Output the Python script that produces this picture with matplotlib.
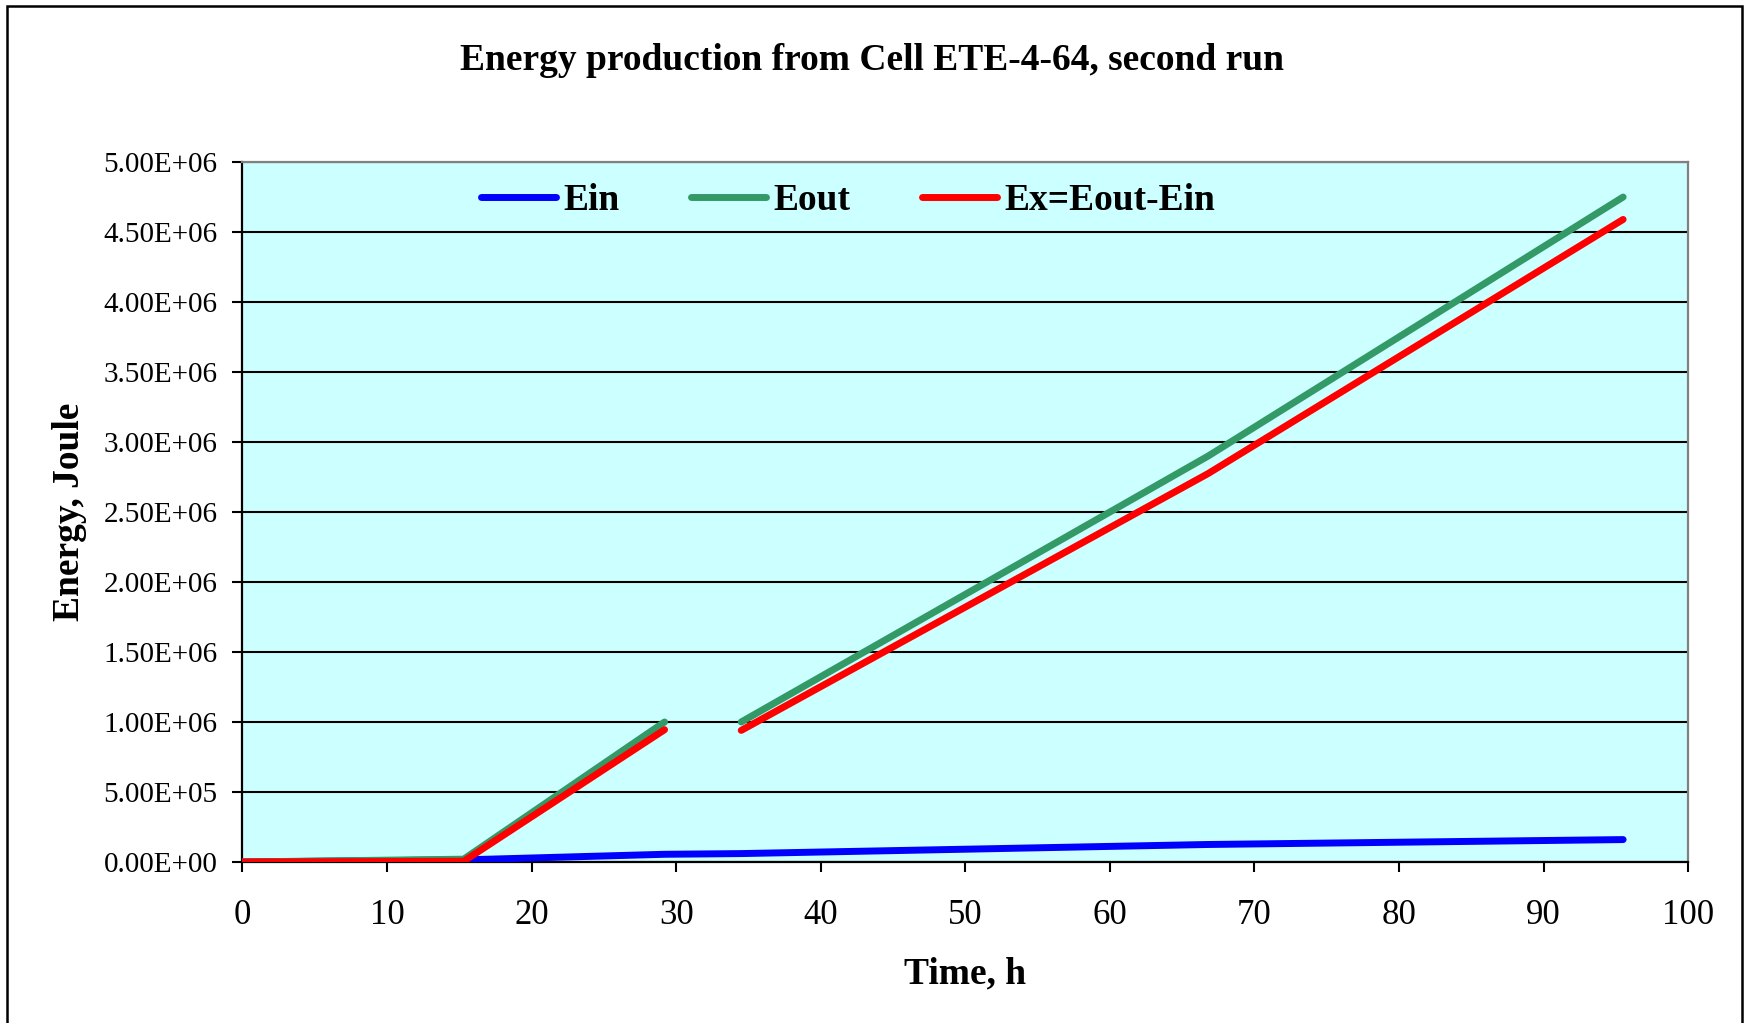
import numpy as np
import matplotlib
matplotlib.use("Agg")
import matplotlib.pyplot as plt
from matplotlib.ticker import FuncFormatter, MultipleLocator
from matplotlib.patches import Rectangle

plt.rcParams['font.family'] = ['Liberation Serif', 'DejaVu Serif']

# Data
time_h = [0.0, 15.3, 29.2, 34.5, 66.8, 95.5]
e_in = [0.0, 0.015e6, 0.055e6, 0.060e6, 0.125e6, 0.160e6]
e_out = [0.0, 0.020e6, 1.000e6, 1.000e6, 2.900e6, 4.750e6]
gap_after = 3   # no Eout record between 29.2 h and 34.5 h

t = np.array(time_h)
e_in = np.array(e_in)
e_out = np.array(e_out)
e_x = e_out - e_in   # Ex = Eout - Ein

# Colours
c_in = '#0000FF'
c_out = '#339966'
c_x = '#FF0000'
bg = '#CCFFFF'

fig = plt.figure(figsize=(17.44, 10.23), dpi=100)
ax = fig.add_axes([0.139, 0.1574, 0.829, 0.6842])
ax.set_facecolor(bg)

lw = 5
ax.plot(t, e_in, color=c_in, lw=lw, solid_capstyle='round', label='Ein', zorder=3)
ax.plot(t[:gap_after], e_out[:gap_after], color=c_out, lw=lw, solid_capstyle='round',
        label='Eout', zorder=4)
ax.plot(t[gap_after:], e_out[gap_after:], color=c_out, lw=lw, solid_capstyle='round', zorder=4)
ax.plot(t[:gap_after], e_x[:gap_after], color=c_x, lw=lw, solid_capstyle='round',
        label='Ex=Eout-Ein', zorder=5)
ax.plot(t[gap_after:], e_x[gap_after:], color=c_x, lw=lw, solid_capstyle='round', zorder=5)

ax.set_xlim(0, 100)
ax.set_ylim(0, 5e6)
ax.xaxis.set_major_locator(MultipleLocator(10))
ax.yaxis.set_major_locator(MultipleLocator(0.5e6))
ax.yaxis.set_major_formatter(FuncFormatter(lambda v, p: f"{v:.2E}"))
ax.grid(axis='y', color='black', lw=1.5, zorder=1)
ax.set_axisbelow(True)

ax.tick_params(axis='both', direction='out', length=7, width=1.5, colors='black')
ax.tick_params(axis='y', pad=11, labelsize=21)
ax.tick_params(axis='x', pad=20, labelsize=25)

for s in ['left', 'bottom']:
    ax.spines[s].set_color('black')
    ax.spines[s].set_linewidth(1.6)
for s in ['top', 'right']:
    ax.spines[s].set_color('#808080')
    ax.spines[s].set_linewidth(1.6)

ax.set_xlabel('Time, h', fontsize=27, fontweight='bold', labelpad=17)
ax.set_ylabel('Energy, Joule', fontsize=27, fontweight='bold', labelpad=12)
fig.suptitle('Energy production from Cell ETE-4-64, second run', fontsize=27,
             fontweight='bold', y=0.958)

ax.legend(loc='center', bbox_to_anchor=(0.419, 0.945), ncol=3, frameon=False,
          prop={'size': 27, 'weight': 'bold'}, handlelength=2.0, handletextpad=0.2,
          columnspacing=1.9)

# outer chart frame
fig.patches.append(Rectangle((7 / 1744, -0.01), 1735 / 1744, 1.004, transform=fig.transFigure,
                             fill=False, edgecolor='black', lw=1.8))

fig.savefig('out.png', dpi=100)
